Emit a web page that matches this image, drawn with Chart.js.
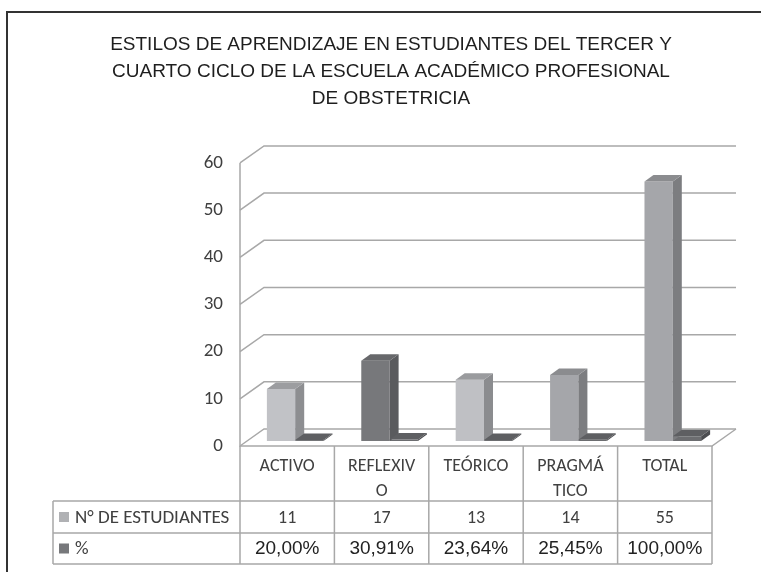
<!DOCTYPE html>
<html>
<head>
<meta charset="utf-8">
<script src="https://cdn.jsdelivr.net/npm/chart.js@4/dist/chart.umd.min.js"></script>
<style>
html, body { margin: 0; padding: 0; background: #fff; }
#wrap { position: relative; width: 761px; height: 572px; }
</style>
</head>
<body>
<div id="wrap"><canvas id="chart" width="761" height="572"></canvas></div>
<script>
// data
const categories = [['ACTIVO'], ['REFLEXIV', 'O'], ['TEÓRICO'], ['PRAGMÁ', 'TICO'], ['TOTAL']];
const students = [11, 17, 13, 14, 55];
const percents = [20.00, 30.91, 23.64, 25.45, 100.00];
const seriesNames = ['N° DE ESTUDIANTES', '%'];
const yTicks = [0, 10, 20, 30, 40, 50, 60];
const titleLines = [
  'ESTILOS DE APRENDIZAJE EN ESTUDIANTES DEL TERCER Y',
  'CUARTO CICLO DE LA ESCUELA ACADÉMICO PROFESIONAL',
  'DE OBSTETRICIA'
];

// colours (front / side / top) for each bar
const frontColors = [
  ['#c1c2c6', '#77787b', '#bfc0c4', '#a5a6aa', '#a5a6aa'],
  ['#6c6d70', '#6c6d70', '#6c6d70', '#6c6d70', '#6c6d70']
];
const sideColors = [
  ['#8d8e91', '#5a5b5e', '#8b8c8f', '#7c7d80', '#7c7d80'],
  ['#4c4d50', '#4c4d50', '#4c4d50', '#4c4d50', '#4c4d50']
];
const topColors = [
  ['#9c9da0', '#67686b', '#9a9b9e', '#8b8c8f', '#8b8c8f'],
  ['#5e5f62', '#5e5f62', '#5e5f62', '#5e5f62', '#5e5f62']
];
const legendColors = ['#b0b1b4', '#77787b'];

const DEPTH = { x: 24, y: -17 };   // side wall / floor depth
const SHIFT = { x: 8, y: -5 };     // bars stand a little behind the front plane
const BAR_D = { x: 9, y: -6.5 };   // depth of each column

const pctText = v => v.toFixed(2).replace('.', ',') + '%';
const calibri = 'Carlito, Lato, sans-serif';
const arial = '"Liberation Sans", Arial, sans-serif';

const walls = {
  id: 'walls',
  beforeDraw(chart) {
    const { ctx, chartArea: a, scales: { y } } = chart;
    ctx.save();
    ctx.strokeStyle = '#333';
    ctx.lineWidth = 2;
    ctx.beginPath();
    ctx.moveTo(7, 572); ctx.lineTo(7, 12); ctx.lineTo(761, 12);
    ctx.stroke();

    ctx.strokeStyle = '#a8a8a8';
    ctx.lineWidth = 1.5;
    yTicks.forEach(v => {
      const py = y.getPixelForValue(v);
      ctx.beginPath();
      ctx.moveTo(a.left, py);
      ctx.lineTo(a.left + DEPTH.x, py + DEPTH.y);
      ctx.lineTo(a.right + DEPTH.x, py + DEPTH.y);
      ctx.stroke();
    });
    const y0 = y.getPixelForValue(0);
    ctx.beginPath();
    ctx.moveTo(a.left, y.getPixelForValue(60));
    ctx.lineTo(a.left, y0);
    ctx.lineTo(a.right, y0);
    ctx.lineTo(a.right + DEPTH.x, y0 + DEPTH.y);
    ctx.stroke();
    ctx.restore();
  },
  beforeDatasetsDraw(chart) {
    chart.ctx.save();
    chart.ctx.translate(SHIFT.x, SHIFT.y);
  },
  afterDatasetsDraw(chart) {
    const ctx = chart.ctx;
    for (let i = 0; i < categories.length; i++) {
      [0, 1].forEach(d => {
        const bar = chart.getDatasetMeta(d).data[i];
        const { x, y, base, width } = bar.getProps(['x', 'y', 'base', 'width'], true);
        const l = x - width / 2, r = x + width / 2;
        ctx.fillStyle = sideColors[d][i];
        ctx.beginPath();
        ctx.moveTo(r, y); ctx.lineTo(r + BAR_D.x, y + BAR_D.y);
        ctx.lineTo(r + BAR_D.x, base + BAR_D.y); ctx.lineTo(r, base);
        ctx.closePath(); ctx.fill();
        ctx.fillStyle = topColors[d][i];
        ctx.beginPath();
        ctx.moveTo(l, y); ctx.lineTo(l + BAR_D.x, y + BAR_D.y);
        ctx.lineTo(r + BAR_D.x, y + BAR_D.y); ctx.lineTo(r, y);
        ctx.closePath(); ctx.fill();
      });
    }
    ctx.restore();
  }
};

const table = {
  id: 'table',
  afterDraw(chart) {
    const { ctx, chartArea: a, scales: { x } } = chart;
    const rows = [a.bottom, 501, 533, 564];
    const legendLeft = 53;
    const half = (a.right - a.left) / categories.length / 2;
    ctx.save();
    ctx.strokeStyle = '#a8a8a8';
    ctx.lineWidth = 1.5;
    ctx.beginPath();
    for (let i = 0; i <= categories.length; i++) {
      const cx = a.left + half * 2 * i;
      ctx.moveTo(cx, rows[0]); ctx.lineTo(cx, rows[3]);
    }
    ctx.moveTo(legendLeft, rows[1]); ctx.lineTo(legendLeft, rows[3]);
    [1, 2, 3].forEach(r => { ctx.moveTo(legendLeft, rows[r]); ctx.lineTo(a.right, rows[r]); });
    ctx.stroke();

    ctx.textAlign = 'center';
    ctx.textBaseline = 'middle';
    categories.forEach((lines, i) => {
      const cx = x.getPixelForValue(i);
      ctx.fillStyle = '#404040';
      ctx.font = '18px ' + calibri;
      lines.forEach((t, k) => ctx.fillText(t, cx, 466 + k * 25));
      ctx.fillText(String(students[i]), cx, 518);
      ctx.fillStyle = '#222';
      ctx.font = '19px ' + arial;
      ctx.fillText(pctText(percents[i]), cx, 549);
    });

    ctx.textAlign = 'left';
    ctx.font = '19px ' + calibri;
    seriesNames.forEach((n, k) => {
      const cy = (rows[k + 1] + rows[k + 2]) / 2;
      ctx.fillStyle = legendColors[k];
      ctx.fillRect(59, cy - 5, 10, 10);
      ctx.fillStyle = '#404040';
      ctx.fillText(n, 75, cy + 1);
    });
    ctx.restore();
  }
};

new Chart(document.getElementById('chart'), {
  type: 'bar',
  data: {
    labels: categories,
    datasets: [
      {
        label: seriesNames[0],
        data: students,
        backgroundColor: frontColors[0],
        categoryPercentage: 0.6,
        barPercentage: 1,
        clip: false
      },
      {
        label: seriesNames[1],
        data: percents.map(p => p / 100),
        backgroundColor: frontColors[1],
        categoryPercentage: 0.6,
        barPercentage: 1,
        clip: false
      }
    ]
  },
  options: {
    responsive: false,
    animation: false,
    layout: { padding: { left: 70, right: 49, top: 0, bottom: 126 } },
    plugins: {
      legend: { display: false },
      tooltip: { enabled: false },
      title: {
        display: true,
        text: titleLines,
        color: '#1e1e1e',
        font: { family: arial, size: 19, weight: 'normal', lineHeight: 1.42 },
        padding: { top: 31, bottom: 51 }
      }
    },
    scales: {
      x: { display: false },
      y: {
        min: 0,
        max: 60,
        ticks: { stepSize: 10, padding: 17, color: '#404040', font: { family: calibri, size: 19 } },
        grid: { display: false, drawTicks: false },
        border: { display: false },
        afterFit(scale) { scale.width = 170; }
      }
    }
  },
  plugins: [walls, table]
});
</script>
</body>
</html>
